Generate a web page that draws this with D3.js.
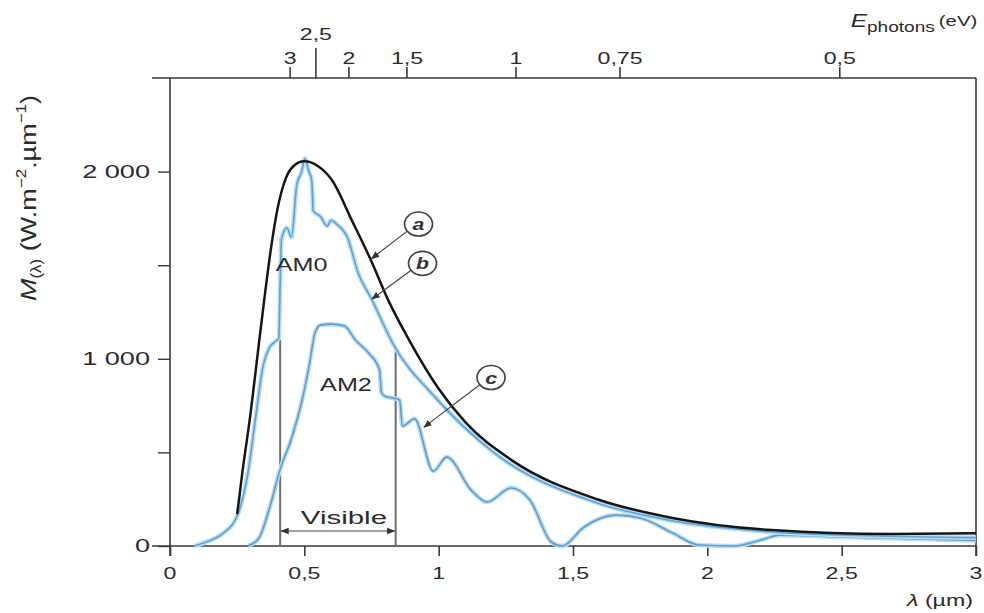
<!DOCTYPE html>
<html>
<head>
<meta charset="utf-8">
<script src="https://cdn.jsdelivr.net/npm/d3@7"></script>
<style>
  html, body { margin: 0; padding: 0; background: #fff; }
  svg { display: block; }
  text { font-family: "Liberation Sans", Arial, Helvetica, sans-serif; fill: #2b2b2b; }
</style>
</head>
<body>
<svg id="chart" width="984" height="613"></svg>
<script>
// ---------------- DATA ----------------
// Curve (a): black-body like extraterrestrial envelope
const lambdaA = [0.25, 0.27, 0.30, 0.335, 0.38, 0.40, 0.43, 0.46, 0.50, 0.55, 0.60, 0.68, 0.75, 0.81, 0.89, 1.0, 1.1, 1.27, 1.59, 1.87, 2.24, 2.68, 3.0];
const valueA  = [170, 400, 710, 1130, 1630, 1800, 1960, 2030, 2055, 2030, 1960, 1730, 1520, 1320, 1100, 840, 660, 460, 250, 150, 85, 64, 68];

// Curve (b): AM0 spectrum
const lambdaB = [0.09, 0.15, 0.20, 0.25, 0.29, 0.32, 0.345, 0.37, 0.39, 0.405, 0.41, 0.415, 0.435, 0.452, 0.472, 0.49, 0.502, 0.515, 0.528, 0.533, 0.56, 0.585, 0.60, 0.62, 0.66, 0.70, 0.75, 0.83, 0.99, 1.2, 1.59, 1.87, 2.24, 2.6, 3.0];
const valueB  = [0, 30, 70, 160, 390, 700, 950, 1060, 1090, 1110, 1400, 1640, 1700, 1650, 1930, 2000, 2070, 2010, 1950, 1790, 1760, 1710, 1740, 1720, 1650, 1460, 1320, 1080, 790, 505, 230, 135, 75, 55, 45];

// Curve (c): AM2 spectrum
const lambdaC = [0.29, 0.33, 0.37, 0.41, 0.45, 0.495, 0.52, 0.54, 0.56, 0.60, 0.65, 0.69, 0.74, 0.78, 0.787, 0.80, 0.83, 0.855, 0.865, 0.91, 0.98, 1.03, 1.12, 1.18, 1.27, 1.34, 1.42, 1.46, 1.54, 1.66, 1.75, 1.87, 1.97, 2.1, 2.2, 2.27, 2.5, 3.0];
const valueC  = [0, 40, 200, 410, 565, 800, 980, 1140, 1180, 1185, 1175, 1100, 1030, 940, 820, 800, 790, 780, 640, 680, 400, 475, 300, 235, 310, 245, 20, 0, 100, 165, 150, 70, 5, 0, 32, 58, 48, 30];

// Axes
const xTicks = [0, 0.5, 1, 1.5, 2, 2.5, 3];
const yTicks = [0, 500, 1000, 1500, 2000];
const yLabelTicks = [0, 1000, 2000];
const topTickLabels = ["3", "2,5", "2", "1,5", "1", "0,75", "0,5"];
const topTickLambda = [0.447, 0.543, 0.666, 0.882, 1.288, 1.675, 2.493];

// Visible band and curve labels
const visibleBand = [0.41, 0.84];
const visibleTop = [1100, 1070];
const curveLabels = ["AM0", "AM2"];
const curveLabelPos = [[0.49, 1470], [0.655, 830]];
const letterNames = ["a", "b", "c"];
const letterCircle = [[0.925, 1720], [0.94, 1510], [1.195, 900]];
const letterTarget = [[0.75, 1535], [0.752, 1320], [0.945, 635]];

// ---------------- DRAWING ----------------
const svg = d3.select("#chart");
const x = d3.scaleLinear().domain([0, 3]).range([170, 976]);
const y = d3.scaleLinear().domain([0, 2500]).range([546, 78]);
const SX = 1.36; // horizontal stretch of lettering in the reference

function stretchedText(g, px, py, str, opts = {}) {
  const t = g.append("text")
    .attr("transform", `translate(${px},${py}) scale(${opts.sx || SX},1)`)
    .attr("text-anchor", opts.anchor || "middle")
    .style("font-size", (opts.size || 17) + "px");
  if (opts.weight) t.style("font-weight", opts.weight);
  if (opts.style) t.style("font-style", opts.style);
  if (opts.fill) t.style("fill", opts.fill);
  t.text(str);
  return t;
}

// defs: arrow markers
const defs = svg.append("defs");
defs.append("marker").attr("id", "arr").attr("viewBox", "0 0 10 10")
  .attr("refX", 9).attr("refY", 5).attr("markerWidth", 7).attr("markerHeight", 7)
  .attr("orient", "auto-start-reverse")
  .append("path").attr("d", "M0,1 L10,5 L0,9 z").attr("fill", "#333");

// Frame lines
const frame = svg.append("g").attr("stroke", "#3a3a3a").attr("stroke-width", 1.6).attr("fill", "none");
frame.append("line").attr("x1", 152).attr("x2", x(3)).attr("y1", y(2500)).attr("y2", y(2500)); // top
frame.append("line").attr("x1", 152).attr("x2", x(3)).attr("y1", y(0)).attr("y2", y(0));       // bottom
frame.append("line").attr("x1", x(0)).attr("x2", x(0)).attr("y1", y(2500)).attr("y2", y(0) + 10); // left
frame.append("line").attr("x1", x(3)).attr("x2", x(3)).attr("y1", y(2500)).attr("y2", y(0) + 10); // right

// Bottom axis
const xAxis = d3.axisBottom(x).tickValues(xTicks).tickSize(10).tickSizeOuter(0).tickFormat(() => "");
const gx = svg.append("g").attr("transform", `translate(0,${y(0)})`).call(xAxis);
gx.select(".domain").remove();
gx.selectAll(".tick line").attr("stroke", "#3a3a3a").attr("stroke-width", 1.6);
const xLab = svg.append("g");
xTicks.forEach(v => stretchedText(xLab, x(v), 579, String(v).replace(".", ","), { size: 17 }));

// Left axis
const yAxis = d3.axisLeft(y).tickValues(yTicks).tickSize(12).tickSizeOuter(0).tickFormat(() => "");
const gy = svg.append("g").attr("transform", `translate(${x(0)},0)`).call(yAxis);
gy.select(".domain").remove();
gy.selectAll(".tick line").attr("stroke", "#3a3a3a").attr("stroke-width", 1.4);
const yLab = svg.append("g");
yLabelTicks.forEach(v => {
  const s = v === 0 ? "0" : d3.format(",")(v).replace(",", " ");
  stretchedText(yLab, 150, y(v) + 6, s, { anchor: "end", size: 17.5, sx: 1.55 });
});

// Top axis (photon energy)
const gt = svg.append("g");
topTickLambda.forEach((l, i) => {
  const big = topTickLabels[i] === "2,5";
  gt.append("line").attr("x1", x(l)).attr("x2", x(l))
    .attr("y1", y(2500)).attr("y2", y(2500) - (big ? 30 : 11))
    .attr("stroke", "#3a3a3a").attr("stroke-width", 1.6);
  stretchedText(gt, x(l), big ? 40 : 64, topTickLabels[i], { size: 17 });
});
// E photons (eV)
const et = gt.append("text").attr("transform", `translate(914,27) scale(${SX},1)`).attr("text-anchor", "middle")
  .style("font-size", "18px");
et.append("tspan").style("font-style", "italic").text("E");
et.append("tspan").attr("dy", 5).style("font-size", "14px").text("photons");
et.append("tspan").attr("dy", -6).attr("dx", 3).style("font-size", "15px").text("(eV)");

// X title
const xt = svg.append("text").attr("transform", `translate(940,606) scale(${SX},1)`).attr("text-anchor", "middle")
  .style("font-size", "17px");
xt.append("tspan").style("font-style", "italic").text("λ");
xt.append("tspan").text(" (µm)");

// Y title (rotated)
const yt = svg.append("text").attr("transform", `translate(36,198) rotate(-90) scale(1.42,1.2)`)
  .attr("text-anchor", "middle").style("font-size", "19px");
yt.append("tspan").style("font-style", "italic").text("M");
yt.append("tspan").attr("dy", 4).style("font-size", "12px").text("(λ)");
yt.append("tspan").attr("dy", -4).text(" (W.m");
yt.append("tspan").attr("dy", -8).style("font-size", "12px").text("−2");
yt.append("tspan").attr("dy", 8).text(".µm");
yt.append("tspan").attr("dy", -8).style("font-size", "12px").text("−1");
yt.append("tspan").attr("dy", 8).text(")");

// Visible band lines
const vis = svg.append("g");
visibleBand.forEach((l, i) => {
  vis.append("line").attr("x1", x(l)).attr("x2", x(l)).attr("y1", y(0)).attr("y2", y(visibleTop[i]))
    .attr("stroke", "#6d6d6d").attr("stroke-width", 2);
});

// Curves
const line = d3.line().x(d => x(d[0])).y(d => y(d[1])).curve(d3.curveMonotoneX);
const dataA = lambdaA.map((l, i) => [l, valueA[i]]);
const dataB = lambdaB.map((l, i) => [l, valueB[i]]);
const dataC = lambdaC.map((l, i) => [l, valueC[i]]);

function blueCurve(data, core) {
  svg.append("path").datum(data).attr("d", line).attr("fill", "none")
    .attr("stroke", "#b9ddf6").attr("stroke-width", 4.5).attr("stroke-linejoin", "round");
  svg.append("path").datum(data).attr("d", line).attr("fill", "none")
    .attr("stroke", core).attr("stroke-width", 1.6).attr("stroke-linejoin", "round");
}
blueCurve(dataC, "#5f9ccc");
blueCurve(dataB, "#5aa2dc");
svg.append("path").datum(dataA).attr("d", line).attr("fill", "none")
  .attr("stroke", "#161616").attr("stroke-width", 2.5);

// Visible arrow + label
vis.append("line").attr("x1", x(visibleBand[0]) + 1).attr("x2", x(visibleBand[1]) - 1)
  .attr("y1", 531).attr("y2", 531).attr("stroke", "#444").attr("stroke-width", 1.2)
  .attr("marker-start", "url(#arr)").attr("marker-end", "url(#arr)");
stretchedText(vis, (x(visibleBand[0]) + x(visibleBand[1])) / 2 + 6, 524, "Visible", { size: 19, sx: 1.55 });

// AM labels
curveLabels.forEach((s, i) => stretchedText(svg, x(curveLabelPos[i][0]), y(curveLabelPos[i][1]), s, { size: 18, sx: 1.4 }));

// Letter call-outs
letterNames.forEach((s, i) => {
  const cx = x(letterCircle[i][0]), cy = y(letterCircle[i][1]);
  const tx = x(letterTarget[i][0]), ty = y(letterTarget[i][1]);
  const ang = Math.atan2(ty - cy, tx - cx);
  svg.append("line").attr("x1", cx + 14 * Math.cos(ang)).attr("y1", cy + 12 * Math.sin(ang))
    .attr("x2", tx).attr("y2", ty).attr("stroke", "#444").attr("stroke-width", 1.2)
    .attr("marker-end", "url(#arr)");
  svg.append("ellipse").attr("cx", cx).attr("cy", cy).attr("rx", 14).attr("ry", 12)
    .attr("fill", "#fff").attr("stroke", "#444").attr("stroke-width", 1.7);
  stretchedText(svg, cx, cy + 6, s, { size: 17, sx: 1.25, weight: "bold", style: "italic", fill: "#333" });
});
</script>
</body>
</html>
